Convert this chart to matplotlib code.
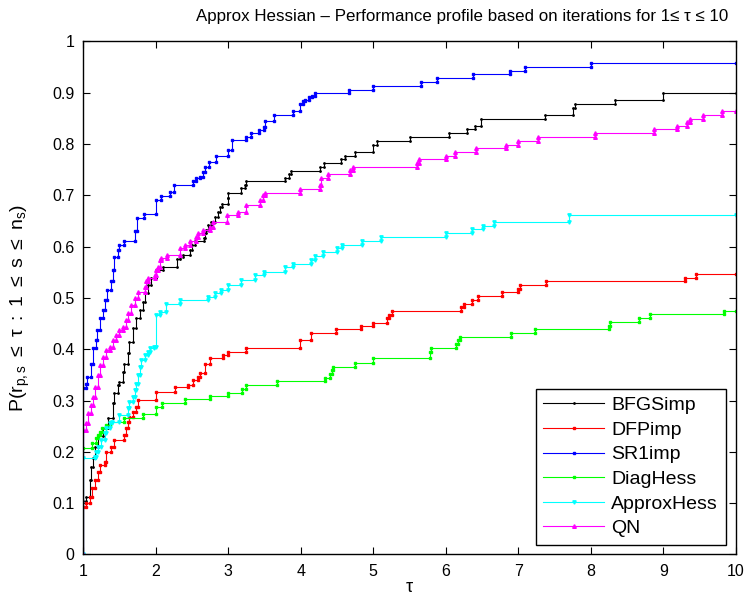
import numpy as np
import matplotlib
matplotlib.use('Agg')
import matplotlib.pyplot as plt

plt.rcParams['font.family'] = ['Liberation Sans', 'DejaVu Sans']
plt.rcParams['mathtext.fontset'] = 'custom'
plt.rcParams['mathtext.rm'] = 'Liberation Sans'
plt.rcParams['mathtext.it'] = 'Liberation Sans'
plt.rcParams['mathtext.bf'] = 'Liberation Sans:bold'

# ---------------- data (tau breakpoints, profile value) ----------------
bfgs_tau = [1.0, 1.044, 1.09, 1.113, 1.135, 1.159, 1.204, 1.273, 1.342, 1.411, 1.434, 1.48, 1.503,
            1.549, 1.572, 1.618, 1.641, 1.687, 1.734, 1.779, 1.825, 1.848, 1.894, 1.941, 2.01, 2.10,
            2.294, 2.331, 2.377, 2.469, 2.506, 2.538, 2.662, 2.676, 2.699, 2.721, 2.768, 2.814, 2.859,
            2.883, 2.92, 2.997, 3.003, 3.182, 3.228, 3.251, 3.789, 3.834, 3.872, 4.272, 4.317, 4.561,
            4.607, 4.745, 4.997, 5.052, 5.503, 6.041, 6.286, 6.40, 6.492, 7.366, 7.748, 7.779, 8.331,
            8.997]
bfgs_p = [0.105, 0.112, 0.145, 0.171, 0.187, 0.21, 0.23, 0.246, 0.265, 0.295, 0.314, 0.33, 0.337,
          0.356, 0.372, 0.392, 0.415, 0.441, 0.46, 0.476, 0.493, 0.509, 0.525, 0.538, 0.554, 0.561,
          0.575, 0.58, 0.584, 0.593, 0.603, 0.61, 0.616, 0.626, 0.632, 0.642, 0.647, 0.658, 0.668,
          0.678, 0.684, 0.694, 0.705, 0.714, 0.72, 0.727, 0.733, 0.741, 0.748, 0.756, 0.762, 0.770,
          0.777, 0.785, 0.798, 0.806, 0.813, 0.821, 0.829, 0.835, 0.848, 0.857, 0.871, 0.878, 0.886,
          0.90]

dfp_tau = [1.0, 1.044, 1.09, 1.127, 1.159, 1.204, 1.228, 1.297, 1.32, 1.389, 1.434, 1.572, 1.596,
           1.618, 1.641, 1.687, 1.724, 1.756, 2.01, 2.272, 2.445, 2.514, 2.583, 2.607, 2.676, 2.754,
           2.928, 2.997, 3.251, 3.996, 4.148, 4.492, 4.837, 4.997, 5.19, 5.218, 5.265, 6.207, 6.248,
           6.363, 6.446, 6.777, 6.997, 7.03, 7.375, 9.298, 9.45]
dfp_p = [0.093, 0.10, 0.112, 0.129, 0.145, 0.161, 0.174, 0.181, 0.20, 0.21, 0.223, 0.233, 0.246,
         0.259, 0.268, 0.278, 0.288, 0.301, 0.317, 0.326, 0.33, 0.34, 0.346, 0.353, 0.372, 0.382,
         0.389, 0.395, 0.403, 0.418, 0.432, 0.439, 0.445, 0.452, 0.46, 0.467, 0.474, 0.483, 0.489,
         0.496, 0.504, 0.511, 0.517, 0.525, 0.533, 0.539, 0.547]

sr1_tau = [1.0, 1.04, 1.06, 1.11, 1.14, 1.18, 1.20, 1.24, 1.27, 1.31, 1.33, 1.39, 1.41, 1.43, 1.48,
           1.50, 1.57, 1.72, 1.74, 1.84, 2.01, 2.07, 2.20, 2.25, 2.51, 2.56, 2.61, 2.65, 2.68, 2.74,
           2.83, 3.00, 3.05, 3.25, 3.31, 3.43, 3.50, 3.51, 3.63, 3.89, 3.99, 4.03, 4.06, 4.12, 4.16,
           4.20, 4.667, 5.0, 5.665, 5.886, 6.376, 6.892, 7.094, 8.0]
sr1_p = [0.324, 0.333, 0.346, 0.372, 0.402, 0.418, 0.437, 0.46, 0.476, 0.496, 0.515, 0.532, 0.554,
         0.58, 0.593, 0.603, 0.611, 0.63, 0.655, 0.663, 0.691, 0.699, 0.706, 0.721, 0.727, 0.733,
         0.736, 0.746, 0.756, 0.764, 0.777, 0.788, 0.808, 0.814, 0.821, 0.827, 0.834, 0.844, 0.857,
         0.864, 0.878, 0.884, 0.886, 0.892, 0.894, 0.90, 0.906, 0.914, 0.921, 0.929, 0.936, 0.943,
         0.951, 0.957]

diag_tau = [1.0, 1.127, 1.182, 1.204, 1.237, 1.265, 1.32, 1.366, 1.572, 1.834, 2.01, 2.092, 2.40,
            2.754, 2.997, 3.19, 3.251, 3.673, 4.34, 4.40, 4.432, 4.446, 4.745, 4.997, 5.779, 5.803,
            6.148, 6.17, 6.203, 6.897, 7.228, 8.248, 8.262, 8.662, 8.814, 9.839]
diag_p = [0.207, 0.217, 0.226, 0.233, 0.239, 0.246, 0.252, 0.259, 0.265, 0.273, 0.288, 0.295, 0.302,
          0.309, 0.315, 0.322, 0.33, 0.338, 0.344, 0.352, 0.359, 0.366, 0.374, 0.382, 0.395, 0.403,
          0.41, 0.418, 0.424, 0.432, 0.439, 0.445, 0.454, 0.46, 0.468, 0.475]

approx_tau = [1.0, 1.159, 1.182, 1.204, 1.251, 1.297, 1.32, 1.366, 1.40, 1.494, 1.618, 1.632, 1.687,
              1.71, 1.734, 1.756, 1.779, 1.803, 1.848, 1.894, 1.927, 1.98, 2.0, 2.055, 2.138, 2.331,
              2.721, 2.814, 2.906, 2.997, 3.182, 3.366, 3.494, 3.779, 3.894, 4.148, 4.193, 4.308,
              4.501, 4.575, 4.851, 5.113, 6.0, 6.363, 6.514, 6.662, 7.701]
approx_p = [0.187, 0.19, 0.20, 0.21, 0.223, 0.236, 0.246, 0.256, 0.259, 0.272, 0.285, 0.298, 0.307,
            0.32, 0.333, 0.35, 0.366, 0.379, 0.389, 0.395, 0.402, 0.405, 0.467, 0.473, 0.489, 0.496,
            0.502, 0.509, 0.515, 0.525, 0.535, 0.545, 0.551, 0.561, 0.567, 0.574, 0.582, 0.59,
            0.597, 0.604, 0.611, 0.618, 0.626, 0.634, 0.64, 0.647, 0.661]

qn_tau = [1.0, 1.044, 1.066, 1.113, 1.135, 1.159, 1.204, 1.228, 1.273, 1.32, 1.366, 1.411, 1.458,
          1.503, 1.549, 1.596, 1.618, 1.665, 1.71, 1.756, 1.848, 1.871, 1.894, 1.986, 2.01, 2.03,
          2.055, 2.079, 2.156, 2.331, 2.40, 2.469, 2.561, 2.583, 2.652, 2.745, 2.79, 2.989, 3.135,
          3.251, 3.434, 3.48, 3.503, 3.996, 4.262, 4.28, 4.377, 4.676, 4.721, 5.604, 5.628, 6.0,
          6.128, 6.414, 6.837, 6.997, 7.273, 8.059, 8.869, 9.182, 9.328, 9.366, 9.541, 9.803]
qn_p = [0.243, 0.256, 0.275, 0.291, 0.307, 0.327, 0.35, 0.369, 0.385, 0.398, 0.405, 0.418, 0.428,
        0.437, 0.444, 0.457, 0.47, 0.486, 0.499, 0.512, 0.522, 0.532, 0.538, 0.545, 0.554, 0.561,
        0.574, 0.577, 0.584, 0.597, 0.603, 0.61, 0.619, 0.626, 0.632, 0.639, 0.647, 0.661, 0.668,
        0.681, 0.691, 0.70, 0.705, 0.713, 0.72, 0.733, 0.741, 0.749, 0.756, 0.762, 0.770, 0.777,
        0.784, 0.792, 0.799, 0.806, 0.813, 0.821, 0.829, 0.835, 0.842, 0.848, 0.857, 0.864]

labels = ['BFGSimp', 'DFPimp', 'SR1imp', 'DiagHess', 'ApproxHess', 'QN']
colors = ['#000000', '#ff0000', '#0000ff', '#00ff00', '#00ffff', '#ff00ff']
markers = ['.', 's', 's', 's', 'v', '^']
msizes = [2.0, 1.6, 2.0, 1.6, 2.4, 2.6]
series = [(bfgs_tau, bfgs_p), (dfp_tau, dfp_p), (sr1_tau, sr1_p),
          (diag_tau, diag_p), (approx_tau, approx_p), (qn_tau, qn_p)]
TAU_MAX = 10


def stairs(t, p, tmax):
    t = np.asarray(t, float)
    p = np.asarray(p, float)
    xs = np.r_[t[0], t[0], np.repeat(t[1:], 2), tmax]
    ys = np.r_[0.0, np.repeat(p[:-1], 2), p[-1], p[-1]]
    return xs, ys


fig = plt.figure(figsize=(7.49, 6.06), dpi=100)
ax = fig.add_axes([0.1108, 0.0851, 0.8718, 0.8466])

for (t, p), lab, c, m, ms in zip(series, labels, colors, markers, msizes):
    xs, ys = stairs(t, p, TAU_MAX)
    ax.plot(xs, ys, color=c, lw=0.8, marker=m, ms=ms, mec=c, mfc=c, label=lab)

ax.set_xlim(1, 10)
ax.set_ylim(0, 1)
ax.set_xticks(range(1, 11))
ax.set_yticks(np.arange(0, 1.01, 0.1))
ax.set_yticklabels(['0', '0.1', '0.2', '0.3', '0.4', '0.5', '0.6', '0.7', '0.8', '0.9', '1'])
ax.tick_params(direction='in', top=True, right=True, length=5, width=0.8, labelsize=11.5)
ax.tick_params(axis='x', pad=7)
ax.tick_params(axis='y', pad=6)
for s in ax.spines.values():
    s.set_linewidth(1.0)

fig.text(462 / 749, 1 - 17 / 606,
         'Approx Hessian \u2013 Performance profile based on iterations for 1\u2264 \u03c4 \u2264 10',
         fontsize=12.2, ha='center', va='center')
ax.set_xlabel('\u03c4', fontsize=13, labelpad=0)
ax.set_ylabel(r'$\mathrm{P(r_{p,s}\ \leq\ \tau\ :\ 1\ \leq\ s\ \leq\ n_s)}$', fontsize=14)
ax.yaxis.set_label_coords(-0.078, 0.48)

leg = ax.legend(loc='lower right', bbox_to_anchor=(0.9847, 0.0183), fontsize=14, frameon=True,
                fancybox=False, edgecolor='black', framealpha=1, numpoints=1,
                handlelength=3.1, handletextpad=0.4, borderpad=0.4, labelspacing=0.36,
                borderaxespad=0.0, markerscale=1.0)
leg.get_frame().set_linewidth(1.0)

fig.savefig('out.png', dpi=100)
